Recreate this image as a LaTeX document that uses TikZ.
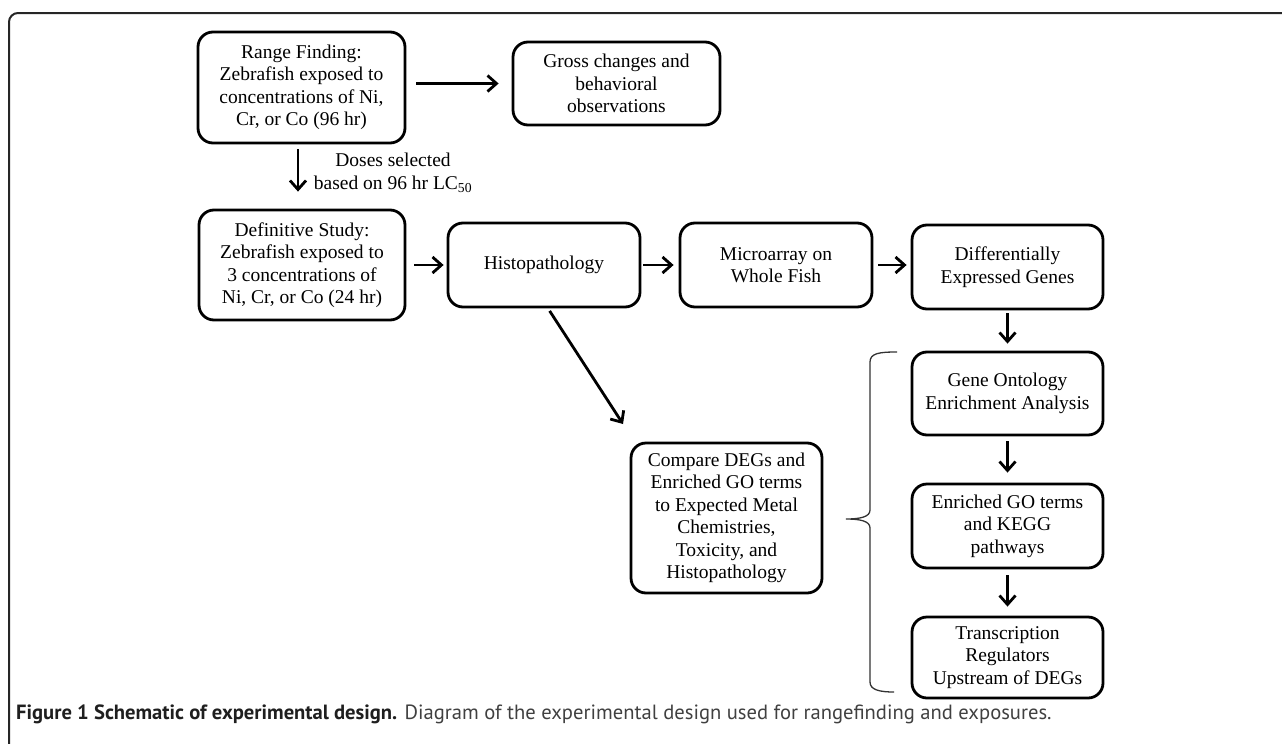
\documentclass[tikz,border=0pt]{standalone}
\usepackage{fontspec}
\setmainfont{Liberation Serif}
\newfontfamily\capfont{PT Sans}
\usetikzlibrary{arrows.meta,calc}
\begin{document}
\begin{tikzpicture}[x=1pt,y=-1pt,
  box/.style={draw, line width=2.8pt, rounded corners=15pt, align=center, inner sep=0pt,
    font=\fontsize{19.5}{22.5}\selectfont},
  arr/.style={-{Straight Barb[length=9pt,width=16pt]}, line width=2.8pt},
  brace/.style={line width=1.3pt, draw=black!80},
  frame/.style={line width=2pt, draw=black!85, rounded corners=9pt}]
\useasboundingbox (0,0) rectangle (1282,744);
\draw[frame] (1282,13) -- (9,13) -- (9,744);

\node[box, minimum width=207pt, minimum height=111pt] (rf) at (301.5,87.5)
  {Range Finding:\\Zebrafish exposed to\\concentrations of Ni,\\Cr, or Co (96 hr)};
\node[box, minimum width=207pt, minimum height=83pt] (gross) at (616.5,83.5)
  {Gross changes and\\behavioral\\observations};
\node[box, minimum width=206pt, minimum height=110pt] (def) at (302,265)
  {Definitive Study:\\Zebrafish exposed to\\3 concentrations of\\Ni, Cr, or Co (24 hr)};
\node[box, minimum width=192pt, minimum height=84pt] (hist) at (544,265) {Histopathology};
\node[box, minimum width=192pt, minimum height=84pt] (micro) at (776,265) {Microarray on\\Whole Fish};
\node[box, minimum width=191pt, minimum height=84pt] (deg) at (1007.5,267) {Differentially\\Expressed Genes};
\node[box, minimum width=191pt, minimum height=83pt] (go) at (1007.5,393.5) {Gene Ontology\\Enrichment Analysis};
\node[box, minimum width=191pt, minimum height=84pt] (kegg) at (1007.5,526) {Enriched GO terms\\and KEGG\\pathways};
\node[box, minimum width=191pt, minimum height=81pt] (tr) at (1007.5,657.5) {Transcription\\Regulators\\Upstream of DEGs};
\node[box, minimum width=191pt, minimum height=150pt] (comp) at (726.5,518)
  {Compare DEGs and\\Enriched GO terms\\to Expected Metal\\Chemistries,\\Toxicity, and\\Histopathology};

\node[align=center, inner sep=0pt, font=\fontsize{19.5}{23}\selectfont] (dose) at (393,173)
  {Doses selected\\based on 96 hr LC\textsubscript{50}};

\coordinate (diagtip) at (623,424);

\draw[arr, shorten <=10pt, shorten >=13pt] (rf.east |- gross.west) -- (gross.west);
\draw[arr, shorten <=5pt, shorten >=17pt] ([xshift=-3.5pt]rf.south) -- ([xshift=-3.5pt]rf.south |- def.north);
\draw[arr, shorten <=8pt, shorten >=3pt] (def.east) -- (hist.west);
\draw[arr, shorten <=2pt, shorten >=5pt] (hist.east) -- (micro.west);
\draw[arr, shorten <=5pt, shorten >=4pt] (micro.east) -- (micro.east -| deg.west);
\draw[arr, shorten <=3pt, shorten >=7pt] (deg.south) -- (go.north);
\draw[arr, shorten <=5pt, shorten >=10pt] (go.south) -- (kegg.north);
\draw[arr, shorten <=6pt, shorten >=9pt] (kegg.south) -- (tr.north);
\draw[arr, shorten <=3pt] ([xshift=4pt]hist.south) -- (diagtip);

\draw[brace] (897,352) .. controls (880,352) and (870,353) .. (870,362) -- (870,510)
  .. controls (870,517) and (860,519) .. (846,519)
  .. controls (860,519) and (870,521) .. (870,528) -- (870,682)
  .. controls (870,690) and (880,692) .. (894,692);

\node[anchor=base west, inner sep=0pt, font=\capfont\fontsize{20.6}{22}\selectfont, text=black!75] (cap) at (16,719)
  {\textcolor{black!88}{\textbf{Figure 1 Schematic of experimental design.}} Diagram of the experimental design used for rangefinding and exposures.};
\end{tikzpicture}
\end{document}
